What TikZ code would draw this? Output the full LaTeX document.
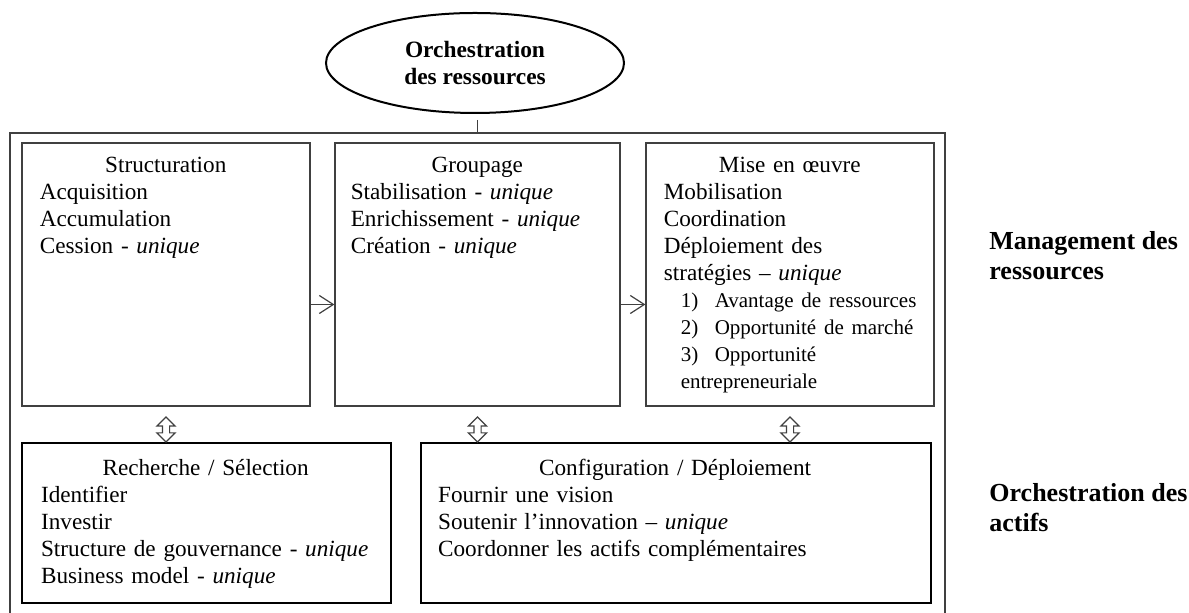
\documentclass[tikz,border=0pt]{standalone}
\usepackage{fontspec}
\setmainfont{Liberation Serif}
\usetikzlibrary{positioning,shapes.geometric,shapes.arrows,arrows.meta}
\newcommand\bodyfont{\fontsize{11.6pt}{13.5pt}\selectfont}
\newcommand\itemfont{\fontsize{10.5pt}{13.4pt}\selectfont}
\newcommand\labelfont{\fontsize{13pt}{15pt}\selectfont\bfseries}
\newcommand\un{\textit{unique}}
\newcommand\num[1]{\hspace*{8.5pt}\makebox[17pt][l]{#1)}}
\begin{document}
\begin{tikzpicture}[x=0.5pt,y=-0.5pt,
		thinline/.style={draw=black!75,line width=0.6pt},
		box/.style={thinline,rectangle,inner sep=0pt},
		actbox/.style={draw=black,line width=1.3pt,rectangle,inner sep=0pt},
		txt/.style={inner sep=0pt,align=left,font=\bodyfont},
		dbl/.style={thinline,shape=double arrow,rotate=90,minimum height=12.5pt,inner sep=1.5pt,double arrow head extend=2.75pt},
		flow/.style={thinline,-{Straight Barb[length=7pt,width=9pt]}}]
	\useasboundingbox (0,0) rectangle (1189,613);
	\node[ellipse,draw,line width=1pt,minimum width=149pt,minimum height=50pt,inner sep=0pt,align=center,font=\fontsize{11.7pt}{13.3pt}\selectfont\bfseries] (orch) at (475,63) {Orchestration\\des ressources};
	\coordinate (tick) at (477.5,120);
	\node[box,minimum width=467.5pt,minimum height=253.5pt] (outer) at (477.5,386.5) {};
	\draw[thinline] (tick) -- (tick |- outer.north);
	\node[box,minimum width=144pt,minimum height=131.5pt] (struct) at (166,274.5) {};
	\node[box,minimum width=142.5pt,minimum height=131.5pt] (group) at (477.5,274.5) {};
	\node[box,minimum width=144pt,minimum height=131.5pt] (mise) at (790,274.5) {};
	\node[actbox,minimum width=184.5pt,minimum height=80pt] (rech) at (206.5,523) {};
	\node[actbox,minimum width=255pt,minimum height=80pt] (config) at (676,523) {};
	\node[txt,text width=126pt,below right=7pt and 9pt of struct.north west] (structtxt) {\makebox[\hsize]{Structuration}\\Acquisition\\Accumulation\\Cession - \un};
	\node[txt,text width=126.5pt,below right=7pt and 8pt of group.north west] (grouptxt) {\makebox[\hsize]{Groupage}\\Stabilisation - \un\\Enrichissement - \un\\Création - \un};
	\node[txt,text width=126pt,below right=7pt and 9pt of mise.north west] (misetxt) {\makebox[\hsize]{Mise en œuvre}\\Mobilisation\\Coordination\\Déploiement des\\stratégies – \un\\\mbox{\itemfont\num{1}Avantage de ressources}\\\mbox{\itemfont\num{2}Opportunité de marché}\\\mbox{\itemfont\num{3}Opportunité}\\\mbox{\itemfont\hspace*{8.5pt}entrepreneuriale}};
	\node[txt,text width=164.5pt,below right=8.5pt and 10pt of rech.north west] (rechtxt) {\makebox[\hsize]{Recherche / Sélection}\\Identifier\\Investir\\Structure de gouvernance - \un\\Business model - \un};
	\node[txt,text width=237pt,below right=8.5pt and 9pt of config.north west] (configtxt) {\makebox[\hsize]{Configuration / Déploiement}\\Fournir une vision\\Soutenir l’innovation – \un\\Coordonner les actifs complémentaires};
	\node[inner sep=0pt,align=left,font=\labelfont,anchor=north west] (mgmt) at (989,231) {Management des\\ressources};
	\node[inner sep=0pt,align=left,font=\labelfont,anchor=north west] (actifs) at (989,483) {Orchestration des\\actifs};
	\draw[flow] ([yshift=-15pt]struct.east) -- ([yshift=-15pt]group.west);
	\draw[flow] ([yshift=-15pt]group.east) -- ([yshift=-15pt]mise.west);
	\node[dbl] (a1) at (166,429.5) {};
	\node[dbl] (a2) at (477.5,429.5) {};
	\node[dbl] (a3) at (790,429.5) {};
\end{tikzpicture}
\end{document}
